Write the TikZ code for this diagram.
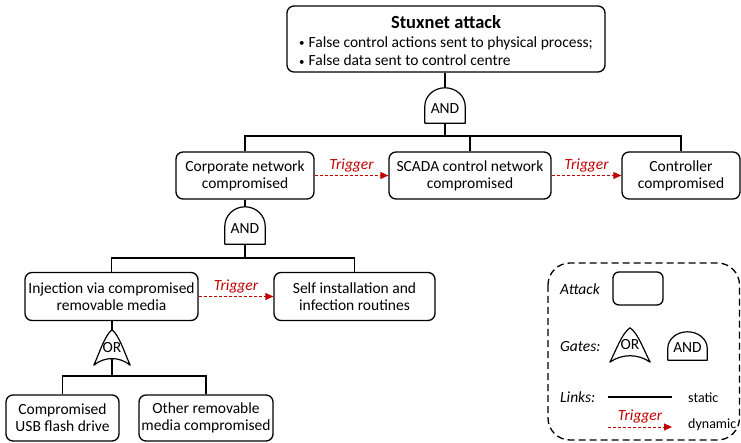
\documentclass[tikz,border=0pt]{standalone}
\usepackage{fontspec}
\setmainfont{Carlito}
\usetikzlibrary{arrows.meta,calc}
\definecolor{trig}{RGB}{192,0,0}
\newcommand\mybul{\raisebox{0.5pt}{\fontsize{11}{11}\selectfont•}\hspace{4pt}}
\newcommand\andgate[2]{%
  \draw[gateline] let \p1=(#1.south west), \p2=(#1.north east) in
    (\p1) -- (\x1,{\y1+#2pt}) arc[start angle=180,end angle=0,x radius={(\x2-\x1)/2},y radius={\y2-\y1-#2pt}] -- (\x2,\y1) -- cycle;}
\newcommand\orgate[1]{%
  \draw[gateline] let \p1=(#1.south west), \p2=(#1.north east), \n1={\x2-\x1}, \n2={\y2-\y1} in
    (\p1) .. controls ({\x1+0.14*\n1},{\y1+0.3*\n2}) and ({\x1+0.3*\n1},{\y1+0.85*\n2}) .. ({\x1+0.5*\n1},\y2)
    .. controls ({\x1+0.7*\n1},{\y1+0.85*\n2}) and ({\x1+0.86*\n1},{\y1+0.3*\n2}) .. (\x2,\y1)
    .. controls ({\x1+0.7*\n1},{\y1+0.25*\n2}) and ({\x1+0.3*\n1},{\y1+0.25*\n2}) .. cycle;}
\tikzset{
  x=1pt, y=1pt,
  box/.style={draw, line width=1.3pt, rounded corners=7pt, align=center, inner sep=2pt,
    font=\fontsize{15.5}{17}\selectfont, minimum height=47pt},
  gateline/.style={line width=1.2pt, line join=round},
  gatenode/.style={inner sep=0pt, font=\fontsize{15.5}{17}\selectfont},
  andnode/.style={gatenode, minimum width=40pt, minimum height=35pt, text height=16pt, text depth=0pt},
  ornode/.style={gatenode, minimum width=36pt, minimum height=35pt},
  link/.style={line width=1.2pt},
  trigger/.style={trig, line width=0.9pt, dash pattern=on 3pt off 2pt, -{Triangle[width=7pt,length=8pt]}},
  trigl/.style={above=3pt, inner sep=0pt, trig, font=\fontsize{15.5}{17}\selectfont\itshape},
  legtext/.style={anchor=west, inner sep=0pt, font=\fontsize{15}{17}\selectfont},
}
\begin{document}
\begin{tikzpicture}
\useasboundingbox (0,0) rectangle (741,-443);

% top event
\node[box, minimum width=318pt, minimum height=66pt] (top) at (446,-39)
  {\raisebox{-4.5pt}[\height][\depth]{\renewcommand\arraystretch{1.08}\begin{tabular}{@{}l@{}}\multicolumn{1}{@{}c@{}}{\fontsize{18.5}{20}\selectfont\bfseries Stuxnet attack}\\
   \mybul False control actions sent to physical process;\\
   \mybul False data sent to control centre\end{tabular}}};
\node[andnode] (g1) at (445,-105.5) {AND};
\andgate{g1}{17}

\coordinate (bar1) at (0,-136);
\node[box, minimum width=138pt] (corp) at (245,-175.5) {Corporate network\\compromised};
\node[box, minimum width=162pt] (scada) at (470,-175.5) {SCADA control network\\compromised};
\node[box, minimum width=118pt] (ctrl) at (681,-175.5) {Controller\\compromised};

\node[andnode, minimum height=37pt] (g2) at (245,-225.5) {AND};
\andgate{g2}{18}

\coordinate (bar2) at (0,-258);
\node[box, minimum width=173pt, minimum height=48pt] (inj) at (111.5,-296.5) {Injection via compromised\\removable media};
\node[box, minimum width=161pt, minimum height=48pt] (self) at (354.5,-296.5) {Self installation and\\infection routines};

\node[ornode] (g3) at (112,-347.5) {OR};
\orgate{g3}

\coordinate (bar3) at (0,-376);
\node[box, minimum width=113pt, minimum height=46pt] (usb) at (62.5,-418) {Compromised\\USB flash drive};
\node[box, minimum width=134pt, minimum height=46pt] (other) at (206,-418) {Other removable\\media compromised};

% static links
\draw[link] (g1.north |- top.south) -- (g1.north);
\draw[link] (g1.south) -- (g1.south |- bar1);
\draw[link] (corp.north) -- (corp.north |- bar1) -- (ctrl.north |- bar1) -- (ctrl.north);
\draw[link] (scada.north) -- (scada.north |- bar1);
\draw[link] (corp.south) -- (g2.north);
\draw[link] (g2.south) -- (g2.south |- bar2);
\draw[link] (inj.north) -- (inj.north |- bar2) -- (self.north |- bar2) -- (self.north);
\draw[link] (g3.north |- inj.south) -- (g3.north);
\draw[link] ([yshift=6.6pt]g3.south) -- (g3.south |- bar3);
\draw[link] (usb.north) -- (usb.north |- bar3) -- (other.north |- bar3) -- (other.north);

% dynamic links
\draw[trigger] (corp.east) -- node[trigl]{Trigger} (scada.west);
\draw[trigger] (scada.east) -- node[trigl]{Trigger} (ctrl.west);
\draw[trigger] (inj.east) -- node[trigl]{Trigger} (self.west);

% legend
\draw[line width=1.3pt, dash pattern=on 7pt off 4pt, rounded corners=22pt] (548,-263) rectangle (739.5,-440);
\node[legtext, font=\fontsize{15.5}{17}\selectfont\itshape] (latt) at (560,-289) {Attack};
\node[draw, line width=1.3pt, rounded corners=6pt, minimum width=50pt, minimum height=33pt, inner sep=0pt] (lbox) at (638,-288.5) {};
\node[legtext, font=\fontsize{15.5}{17}\selectfont\itshape] (lgat) at (560,-347) {Gates:};
\node[ornode, minimum width=40pt, minimum height=34pt] (lor) at (630,-345) {OR};
\orgate{lor}
\node[andnode, minimum width=39pt, minimum height=28pt, text height=13pt] (land) at (687.5,-346) {AND};
\andgate{land}{12}
\node[legtext, font=\fontsize{15.5}{17}\selectfont\itshape] (llnk) at (560,-397) {Links:};
\coordinate (s1) at (608,-397);
\coordinate (s2) at (672,-397);
\draw[link] (s1) -- (s2);
\node[legtext, font=\fontsize{14}{17}\selectfont] (lstat) at (688,-398) {static};
\coordinate (d1) at (608,-427);
\coordinate (d2) at (672,-427);
\draw[trigger] (d1) -- node[trigl]{Trigger} (d2);
\node[legtext, font=\fontsize{14}{17}\selectfont] (ldyn) at (688,-425) {dynamic};
\end{tikzpicture}
\end{document}
